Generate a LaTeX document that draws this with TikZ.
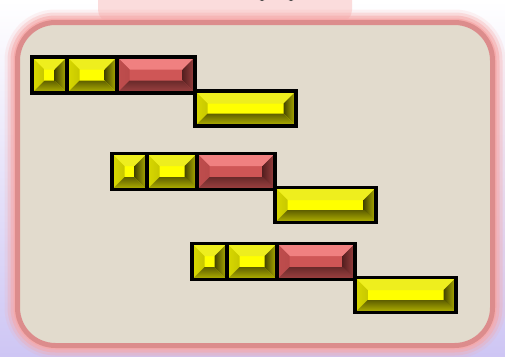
\documentclass[tikz,border=0pt]{standalone}
\usepackage{tikz}
\usepackage{xcolor}
\usetikzlibrary{positioning,calc}
\definecolor{panelBeige}{RGB}{226,219,205}
\definecolor{frameRose}{RGB}{220,140,140}
\definecolor{glowPink}{RGB}{246,168,168}
\definecolor{skyLilac}{RGB}{206,198,244}
\definecolor{yelFace}{RGB}{255,255,0}
\definecolor{yelTop}{RGB}{238,238,30}
\definecolor{yelLeft}{RGB}{200,200,0}
\definecolor{yelRight}{RGB}{70,70,0}
\definecolor{yelBottom}{RGB}{95,95,0}
\definecolor{redFace}{RGB}{207,86,86}
\definecolor{redTop}{RGB}{240,128,128}
\definecolor{redLeft}{RGB}{185,74,74}
\definecolor{redRight}{RGB}{85,32,32}
\definecolor{redBottom}{RGB}{105,42,42}
\tikzset{brickline/.style={draw=black, line width=3.2pt, inner sep=0pt, outer sep=0pt}}
\newcommand{\bw}{12.5}
% bevelled brick: name, top left x/y, bottom right x/y, colour set
\newcommand{\brick}[6]{%
  \fill[#6Face] (#2,#3) rectangle (#4,#5);
  \fill[#6Top] (#2,#3) -- (#4,#3) -- (#4-\bw,#3+\bw) -- (#2+\bw,#3+\bw) -- cycle;
  \shade[left color=#6Left!70!#6Face, right color=#6Left] (#2,#3) -- (#2+\bw,#3+\bw) -- (#2+\bw,#5-\bw) -- (#2,#5) -- cycle;
  \shade[left color=#6Right, right color=#6Right!40!#6Face] (#4,#3) -- (#4-\bw,#3+\bw) -- (#4-\bw,#5-\bw) -- (#4,#5) -- cycle;
  \shade[top color=#6Bottom, bottom color=#6Bottom!45!#6Face] (#2,#5) -- (#2+\bw,#5-\bw) -- (#4-\bw,#5-\bw) -- (#4,#5) -- cycle;
  \node[brickline, minimum width={(#4-#2)*1pt}, minimum height={(#5-#3)*1pt}, anchor=north west] (#1) at (#2,#3) {};
}

\begin{document}
\begin{tikzpicture}[x=1pt,y=-1pt]
  \useasboundingbox (0,0) rectangle (505,356);
  \clip (0,0) rectangle (505,356);
  % backdrop
  \shade[top color=white, bottom color=skyLilac] (0,0) rectangle (505,356);
  \fill[glowPink!40!white, rounded corners=12pt] (98,-20) rectangle (352,22);
  \fill[black!75] (262,-3) circle (4);
  \fill[black!75] (291,-3) circle (4);
  % glowing frame
  \foreach \d/\op in {13/0.15,10/0.3,7/0.5,4/0.8} {
    \pgfmathsetmacro{\rr}{38+\d}
    \fill[glowPink, opacity=\op, rounded corners=\rr pt] (17.5-\d,22.5-\d) rectangle (492.5+\d,345.5+\d);
  }
  \filldraw[fill=panelBeige, draw=frameRose, line width=5pt, rounded corners=38pt] (17.5,22.5) rectangle (492.5,345.5);
  % staircase of bricks
  \foreach \g/\dx/\dy in {1/0/0, 2/80/96.5, 3/160/186.5} {
    \begin{scope}[shift={(\dx,\dy)}]
      \brick{sq\g}{32}{57}{67}{93}{yel}
      \brick{mid\g}{67}{57}{117}{93}{yel}
      \brick{red\g}{117}{57}{195}{93}{red}
      \brick{bar\g}{195}{91}{296}{126}{yel}
    \end{scope}
  }
\end{tikzpicture}
\end{document}
